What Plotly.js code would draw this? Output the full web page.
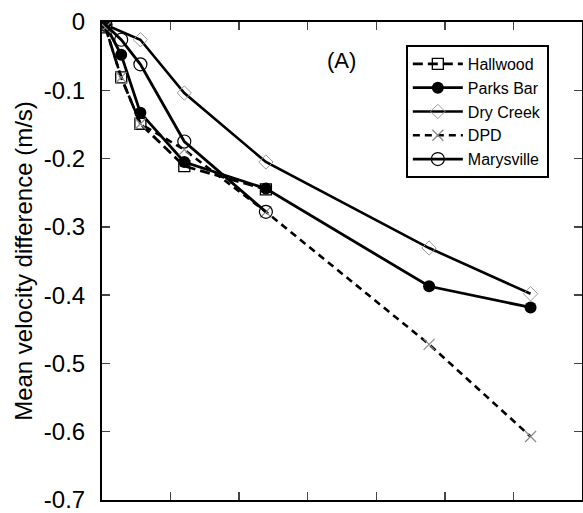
<!DOCTYPE html>
<html>
<head>
<meta charset="utf-8">
<script src="https://cdn.plot.ly/plotly-3.0.1.min.js"></script>
<style>
  html, body { margin: 0; padding: 0; background: #fff; }
  #chart { width: 583px; height: 513px; }
</style>
</head>
<body>
<div id="chart"></div>
<script>
// x positions in axis units (the original axis has no tick labels)
var hallwoodX = [0.05, 0.28, 0.56, 1.20, 2.39];
var hallwoodY = [-0.008, -0.081, -0.149, -0.211, -0.245];

var parksBarX = [0.05, 0.28, 0.56, 1.20, 2.39, 4.77, 6.25];
var parksBarY = [-0.004, -0.048, -0.133, -0.205, -0.244, -0.387, -0.418];

var dryCreekX = [0.05, 0.56, 1.20, 2.39, 4.77, 6.25];
var dryCreekY = [-0.004, -0.026, -0.104, -0.205, -0.331, -0.398];

var dpdX = [0.05, 0.28, 0.56, 1.20, 2.39, 4.77, 6.25];
var dpdY = [-0.008, -0.081, -0.149, -0.187, -0.278, -0.472, -0.607];

var marysvilleX = [0.05, 0.28, 0.56, 1.20, 2.39];
var marysvilleY = [-0.004, -0.026, -0.062, -0.175, -0.278];

var yTickVals = [0, -0.1, -0.2, -0.3, -0.4, -0.5, -0.6, -0.7];
var yTickText = ["0", "-0.1", "-0.2", "-0.3", "-0.4", "-0.5", "-0.6", "-0.7"];

var FONT = "Liberation Sans, Arial, sans-serif";

var traces = [
  {
    x: hallwoodX, y: hallwoodY, name: "Hallwood", type: "scatter", mode: "lines+markers",
    line: { color: "#000", width: 2.8, dash: "10px,5px" },
    marker: { symbol: "square-open", size: 11, color: "#000", line: { width: 1.3, color: "#000" } }
  },
  {
    x: parksBarX, y: parksBarY, name: "Parks Bar", type: "scatter", mode: "lines+markers",
    line: { color: "#000", width: 2.8 },
    marker: { symbol: "circle", size: 12, color: "#000" }
  },
  {
    x: dryCreekX, y: dryCreekY, name: "Dry Creek", type: "scatter", mode: "lines+markers",
    line: { color: "#000", width: 2.6 },
    marker: { symbol: "diamond-open", size: 11, color: "#999", line: { width: 1, color: "#999" } }
  },
  {
    x: dpdX, y: dpdY, name: "DPD", type: "scatter", mode: "lines+markers",
    line: { color: "#000", width: 2.6, dash: "7px,5px" },
    marker: { symbol: "x-thin-open", size: 11, color: "#888", line: { width: 1.2, color: "#888" } }
  },
  {
    x: marysvilleX, y: marysvilleY, name: "Marysville", type: "scatter", mode: "lines+markers",
    line: { color: "#000", width: 2.8 },
    marker: { symbol: "circle-open", size: 13, color: "#000", line: { width: 1.2, color: "#000" } }
  }
];

var layout = {
  width: 583, height: 513,
  margin: { l: 102, r: 1, t: 22, b: 13 },
  paper_bgcolor: "#fff", plot_bgcolor: "#fff",
  font: { family: FONT, color: "#000", size: 24 },
  showlegend: true,
  legend: {
    x: 0.633, y: 0.952, xanchor: "left", yanchor: "top",
    bordercolor: "#000", borderwidth: 2, bgcolor: "#fff",
    font: { family: FONT, size: 16, color: "#000" },
    itemwidth: 50, entrywidth: 160, entrywidthmode: "pixels"
  },
  xaxis: {
    range: [0, 7], dtick: 1, tick0: 0,
    showticklabels: false, ticks: "inside", ticklen: 8, tickwidth: 1.5,
    showline: true, linewidth: 2, linecolor: "#000", mirror: "ticks",
    showgrid: false, zeroline: false
  },
  yaxis: {
    range: [-0.7, 0], tickmode: "array", tickvals: yTickVals, ticktext: yTickText,
    ticks: "inside", ticklen: 8, tickwidth: 1.5, ticklabelstandoff: 10,
    ticklabeloverflow: "allow",
    tickfont: { family: FONT, size: 24, color: "#000" },
    showline: true, linewidth: 2, linecolor: "#000", mirror: "ticks",
    showgrid: false, zeroline: false,
    title: { text: "Mean velocity difference (m/s)", font: { family: FONT, size: 24, color: "#000" }, standoff: 4 }
  },
  annotations: [
    { text: "(A)", x: 0.498, y: 0.9205, xref: "paper", yref: "paper", showarrow: false,
      xanchor: "center", yanchor: "middle",
      font: { family: FONT, size: 22, color: "#000" } }
  ]
};

Plotly.newPlot("chart", traces, layout, { displayModeBar: false, staticPlot: true });
</script>
</body>
</html>
